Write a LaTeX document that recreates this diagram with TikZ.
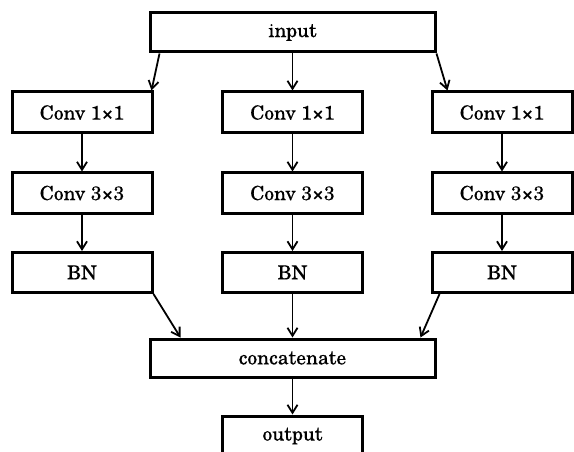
\documentclass[tikz,border=0pt]{standalone}
\usepackage{fontspec}
\setmainfont{texgyreschola-regular.otf}[FakeBold=0.15]
\usetikzlibrary{arrows.meta,calc}
\begin{document}
\begin{tikzpicture}[x=1pt,y=1pt,
  blk/.style={draw=black,line width=3pt,minimum width=140pt,minimum height=40pt,
    inner sep=0pt,font=\fontsize{19.5}{23}\selectfont,fill=white},
  wide/.style={blk,minimum width=285pt,minimum height=39pt},
  flow/.style={line width=1.8pt,-{Straight Barb[length=8pt,width=10pt,line width=1.8pt]}}]
\useasboundingbox (0,0) rectangle (574,-452);
% top and bottom blocks
\node[wide] (in) at (292.5,-32.5) {input};
\node[wide,minimum height=38pt] (cat) at (292.5,-358) {concatenate};
\node[blk] (out) at (292.5,-436) {output};
% three parallel branches
\foreach \n/\x in {L/82,M/292.5,R/502}{
  \node[blk,minimum height=41pt] (c1\n) at (\x,-112.5) {Conv 1×1};
  \node[blk] (c3\n) at (\x,-193) {Conv 3×3};
  \node[blk] (bn\n) at (\x,-272.5) {BN};
  \draw[flow] (c1\n.south) -- (c3\n.north);
  \draw[flow] (c3\n.south) -- (bn\n.north);
}
% fan out from input
\draw[flow] ([xshift=11pt]in.south west) -- ([xshift=-2pt]c1L.north east);
\draw[flow] (in.south) -- (c1M.north);
\draw[flow] (in.south east) -- ([xshift=17pt]c1R.north west);
% merge into concatenate
\draw[flow] (bnL.south east) -- ([xshift=32pt]cat.north west);
\draw[flow] (bnM.south) -- (cat.north);
\draw[flow] ([xshift=9pt]bnR.south west) -- ([xshift=-16pt]cat.north east);
\draw[flow] (cat.south) -- (out.north);
\end{tikzpicture}
\end{document}
